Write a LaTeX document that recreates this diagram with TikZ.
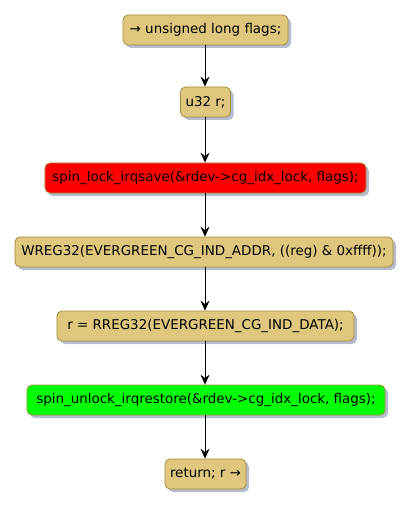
\documentclass[tikz,border=0pt]{standalone}
\usepackage{fontspec}
\setmainfont{DejaVu Sans}
\usetikzlibrary{arrows.meta,shadows}
\definecolor{tanfill}{RGB}{223,200,126}
\definecolor{tanline}{RGB}{163,142,62}
\definecolor{shadowc}{RGB}{150,160,185}
\definecolor{redfill}{RGB}{255,0,0}
\definecolor{greenfill}{RGB}{0,255,0}
\tikzset{
  act/.style={draw=tanline, fill=tanfill, rounded corners=5bp, line width=0.8bp,
    minimum height=30bp, inner xsep=0bp, inner ysep=0bp, font=\fontsize{13.5}{16}\selectfont,
    drop shadow={shadow xshift=3bp, shadow yshift=-3bp, fill=shadowc, opacity=0.7}},
  flow/.style={draw=black, line width=0.9bp, -{Stealth[length=10bp,width=9bp,inset=3.5bp]}}
}
\begin{document}
\begin{tikzpicture}[x=1bp,y=-1bp]
\useasboundingbox (0,0) rectangle (414,507);
\node[act, minimum width=165bp] (n1) at (205.5,30) {→ unsigned long flags;};
\node[act, minimum width=50bp] (n2) at (205.5,102) {u32 r;};
\node[act, fill=redfill, minimum width=321bp] (n3) at (205.5,178) {spin\_lock\_irqsave(\&rdev->cg\_idx\_lock, flags);};
\node[act, minimum width=378bp] (n4) at (204,252) {WREG32(EVERGREEN\_CG\_IND\_ADDR, ((reg) \& 0xffff));};
\node[act, minimum width=297bp] (n5) at (205.5,326) {r = RREG32(EVERGREEN\_CG\_IND\_DATA);};
\node[act, fill=greenfill, minimum width=358bp] (n6) at (206,400) {spin\_unlock\_irqrestore(\&rdev->cg\_idx\_lock, flags);};
\node[act, minimum width=81bp] (n7) at (205.5,474) {return; r →};
\draw[flow] (n1.south -| 205,0) -- (n2.north -| 205,0);
\draw[flow] (n2.south -| 205,0) -- (n3.north -| 205,0);
\draw[flow] (n3.south -| 205,0) -- (n4.north -| 205,0);
\draw[flow] (n4.south -| 205,0) -- (n5.north -| 205,0);
\draw[flow] (n5.south -| 205,0) -- (n6.north -| 205,0);
\draw[flow] (n6.south -| 205,0) -- (n7.north -| 205,0);
\end{tikzpicture}
\end{document}
